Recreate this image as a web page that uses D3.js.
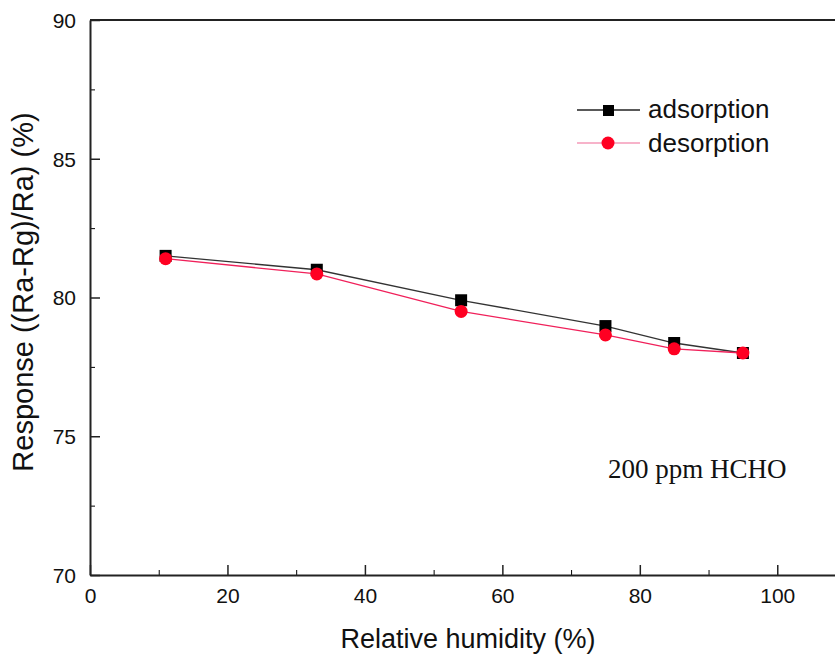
<!DOCTYPE html>
<html>
<head>
<meta charset="utf-8">
<script src="https://cdn.jsdelivr.net/npm/d3@7"></script>
<style>
  body { margin: 0; background: #fff; }
  text { font-family: "Liberation Sans", Arial, sans-serif; fill: #111; }
</style>
</head>
<body>
<div id="chart"></div>
<script>
var svgWidth = 835;
var svgHeight = 658;

var margin = { top: 20, right: 0, bottom: 83, left: 90 };

var width = svgWidth - margin.left - margin.right;
var height = svgHeight - margin.top - margin.bottom;

// data
var humidity = [11, 33, 54, 75, 85, 95];
var adsorption = [81.5, 81.0, 79.9, 78.97, 78.36, 78.0];
var desorption = [81.4, 80.85, 79.5, 78.65, 78.15, 78.0];
var xTicks = [0, 20, 40, 60, 80, 100];
var yTicks = [70, 75, 80, 85, 90];

var svg = d3.select("#chart")
    .append("svg")
    .attr("width", svgWidth)
    .attr("height", svgHeight);

var chartGroup = svg.append("g")
    .attr("transform", `translate(${margin.left}, ${margin.top})`);

var xScale = d3.scaleLinear()
    .domain([0, 108.4])
    .range([0, width]);

var yScale = d3.scaleLinear()
    .domain([70, 90])
    .range([height, 0]);

// minor ticks
chartGroup.append("g")
    .attr("transform", `translate(0, ${height})`)
    .call(d3.axisBottom(xScale).tickValues(d3.range(10, 108, 20)).tickSize(-5).tickFormat(""))
    .call(g => g.select(".domain").remove());

chartGroup.append("g")
    .call(d3.axisLeft(yScale).tickValues([72.5, 77.5, 82.5, 87.5]).tickSize(-5).tickFormat(""))
    .call(g => g.select(".domain").remove());

// major ticks
var bottomAxis = d3.axisBottom(xScale)
    .tickValues(xTicks)
    .tickSizeInner(-10)
    .tickSizeOuter(0)
    .tickPadding(13);
var leftAxis = d3.axisLeft(yScale)
    .tickValues(yTicks)
    .tickSizeInner(-10)
    .tickSizeOuter(0)
    .tickPadding(14);

var xg = chartGroup.append("g")
    .attr("transform", `translate(0, ${height})`)
    .call(bottomAxis);
var yg = chartGroup.append("g")
    .call(leftAxis);

[xg, yg].forEach(function(g) {
    g.selectAll("text").style("font-size", "21px").style("font-family", "Liberation Sans, Arial, sans-serif").attr("fill", "#222");
    g.selectAll("line").attr("stroke", "#222").attr("stroke-width", 1.5);
    g.select(".domain").attr("stroke", "#222").attr("stroke-width", 2);
});
yg.selectAll("text").attr("dy", "0.35em");

// top border
chartGroup.append("line")
    .attr("x1", 0).attr("x2", width)
    .attr("y1", 0).attr("y2", 0)
    .attr("stroke", "#222").attr("stroke-width", 2);

var adsData = humidity.map((h, i) => ({ x: h, y: adsorption[i] }));
var desData = humidity.map((h, i) => ({ x: h, y: desorption[i] }));

var line = d3.line()
    .x(d => xScale(d.x))
    .y(d => yScale(d.y));

chartGroup.append("path")
    .datum(adsData)
    .attr("d", line)
    .attr("fill", "none")
    .attr("stroke", "#333")
    .attr("stroke-width", 1.3);

chartGroup.selectAll("rect.ads")
    .data(adsData)
    .enter()
    .append("rect")
    .classed("ads", true)
    .attr("x", d => xScale(d.x) - 6)
    .attr("y", d => yScale(d.y) - 6)
    .attr("width", 12)
    .attr("height", 12)
    .attr("fill", "#000");

chartGroup.append("path")
    .datum(desData)
    .attr("d", line)
    .attr("fill", "none")
    .attr("stroke", "#f0205a")
    .attr("stroke-width", 1.3);

chartGroup.selectAll("circle.des")
    .data(desData)
    .enter()
    .append("circle")
    .classed("des", true)
    .attr("cx", d => xScale(d.x))
    .attr("cy", d => yScale(d.y))
    .attr("r", 6.5)
    .attr("fill", "#ff0022");

// legend
var legend = svg.append("g");
legend.append("line").attr("x1", 577).attr("x2", 640).attr("y1", 110).attr("y2", 110)
    .attr("stroke", "#222").attr("stroke-width", 1.3);
legend.append("rect").attr("x", 603).attr("y", 105).attr("width", 11).attr("height", 11).attr("fill", "#000");
legend.append("text").attr("x", 648).attr("y", 118).style("font-size", "26px").text("adsorption");

legend.append("line").attr("x1", 577).attr("x2", 640).attr("y1", 143).attr("y2", 143)
    .attr("stroke", "#f59ab8").attr("stroke-width", 1.3);
legend.append("circle").attr("cx", 608).attr("cy", 143).attr("r", 6.5).attr("fill", "#ff0022");
legend.append("text").attr("x", 648).attr("y", 152).style("font-size", "26px").text("desorption");

// annotation
svg.append("text")
    .attr("x", 608)
    .attr("y", 478)
    .style("font-family", "Liberation Serif, Times New Roman, serif")
    .style("font-size", "27px")
    .text("200 ppm HCHO");

// axis titles
svg.append("text")
    .attr("transform", "rotate(-90)")
    .attr("x", -292)
    .attr("y", 33)
    .attr("text-anchor", "middle")
    .style("font-size", "29px")
    .text("Response ((Ra-Rg)/Ra) (%)");

svg.append("text")
    .attr("x", 468)
    .attr("y", 648)
    .attr("text-anchor", "middle")
    .style("font-size", "27px")
    .text("Relative humidity (%)");
</script>
</body>
</html>
